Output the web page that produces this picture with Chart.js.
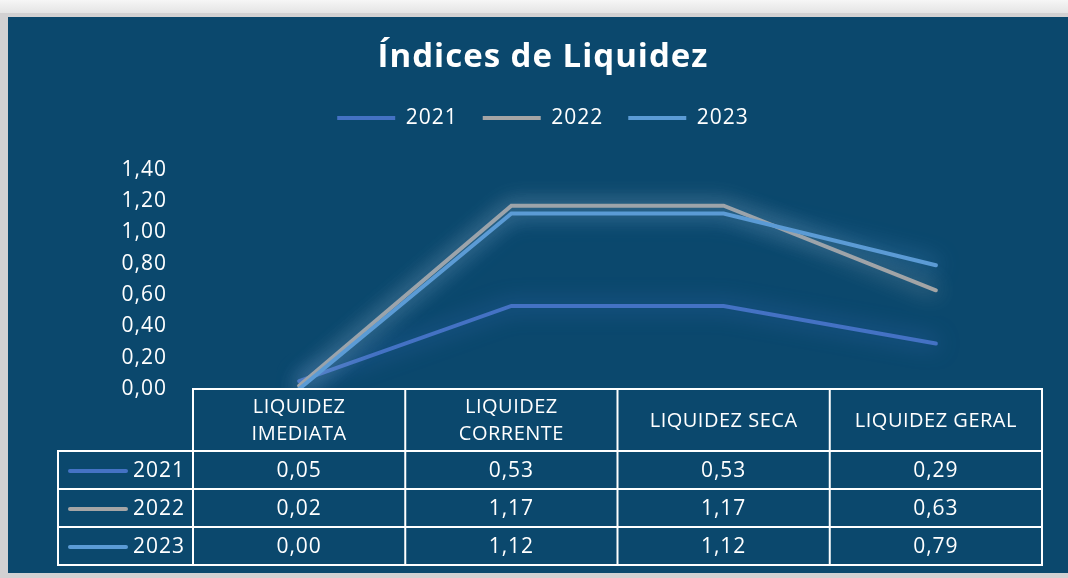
<!DOCTYPE html>
<html>
<head>
<meta charset="utf-8">
<script src="https://cdn.jsdelivr.net/npm/chart.js@4.4.0/dist/chart.umd.min.js"></script>
<style>
  html, body { margin: 0; padding: 0; }
  body { width: 1068px; height: 578px; background: #d2d1d2; overflow: hidden; position: relative; }
  .top { position: absolute; left: 0; top: 0; width: 1068px; height: 13px; background: linear-gradient(#f6f6f6, #e4e4e4); }
  .chart-box { position: absolute; left: 8px; top: 17px; width: 1060px; height: 556px; background: #0b486d; }
</style>
</head>
<body>
<div class="top"></div>
<div class="chart-box">
  <canvas id="liquidez"></canvas>
</div>
<script>
// Data
const categories = [["LIQUIDEZ", "IMEDIATA"], ["LIQUIDEZ", "CORRENTE"], ["LIQUIDEZ SECA"], ["LIQUIDEZ GERAL"]];
const years = ["2021", "2022", "2023"];
const values2021 = [0.05, 0.53, 0.53, 0.29];
const values2022 = [0.02, 1.17, 1.17, 0.63];
const values2023 = [0.00, 1.12, 1.12, 0.79];
const yTicks = [0, 0.2, 0.4, 0.6, 0.8, 1.0, 1.2, 1.4];

const colors = ['#4472c4', '#a5a5a5', '#5b9bd5'];
const glows = ['rgba(68,114,196,0.9)', 'rgba(215,215,215,0.75)', 'rgba(91,155,213,0.9)'];
const FONT = '"Open Sans", sans-serif';

const fmt = (v) => v.toFixed(2).replace('.', ',');

// Slightly wider text, like the original
const spacing = {
    id: 'spacing',
    beforeUpdate(chart) { chart.ctx.letterSpacing = '1px'; },
    beforeDraw(chart) { chart.ctx.letterSpacing = '1px'; }
};

// Soft glow behind each line
const glow = {
    id: 'glow',
    beforeDatasetDraw(chart, args) {
        const ds = chart.data.datasets[args.index];
        chart.ctx.save();
        chart.ctx.shadowColor = ds.glowColor;
        chart.ctx.shadowBlur = 22;
    },
    afterDatasetDraw(chart) {
        chart.ctx.restore();
    }
};

// Extra room between legend and plot
const legendSpace = {
    id: 'legendSpace',
    beforeInit(chart) {
        const fit = chart.legend.fit;
        chart.legend.fit = function () {
            fit.bind(chart.legend)();
            this.height += 31;
        };
    }
};

// Data table under the plot, aligned with the category scale
const dataTable = {
    id: 'dataTable',
    afterDraw(chart) {
        const { ctx, chartArea } = chart;
        const n = categories.length;
        const colW = (chartArea.right - chartArea.left) / n;
        const top = chartArea.bottom;
        const headH = 62, rowH = 38;
        const legLeft = 50;
        const rowsTop = top + headH;
        const bottom = rowsTop + rowH * years.length;

        ctx.save();
        ctx.strokeStyle = '#ffffff';
        ctx.lineWidth = 2;

        ctx.strokeRect(chartArea.left, top, chartArea.right - chartArea.left, bottom - top);
        ctx.strokeRect(legLeft, rowsTop, chartArea.left - legLeft, bottom - rowsTop);
        for (let i = 1; i < n; i++) {
            const xx = chartArea.left + i * colW;
            ctx.beginPath(); ctx.moveTo(xx, top); ctx.lineTo(xx, bottom); ctx.stroke();
        }
        for (let r = 0; r < years.length; r++) {
            const yy = rowsTop + r * rowH;
            ctx.beginPath(); ctx.moveTo(legLeft, yy); ctx.lineTo(chartArea.right, yy); ctx.stroke();
        }

        // header text
        ctx.fillStyle = '#ffffff';
        ctx.textAlign = 'center';
        ctx.textBaseline = 'middle';
        ctx.letterSpacing = '0.5px';
        ctx.font = '20px ' + FONT;
        categories.forEach((lines, i) => {
            const cx = chartArea.left + (i + 0.5) * colW;
            const cy = top + headH / 2 + 1;
            lines.forEach((t, j) => {
                ctx.fillText(t, cx, cy + (j - (lines.length - 1) / 2) * 27);
            });
        });

        // rows
        ctx.letterSpacing = '1px';
        chart.data.datasets.forEach((ds, r) => {
            const cy = rowsTop + (r + 0.5) * rowH + 1;
            ctx.strokeStyle = ds.borderColor;
            ctx.lineWidth = 4;
            ctx.lineCap = 'round';
            ctx.beginPath(); ctx.moveTo(62, cy); ctx.lineTo(118, cy); ctx.stroke();
            ctx.font = '21px ' + FONT;
            ctx.textAlign = 'right';
            ctx.fillText(ds.label, chartArea.left - 8, cy);
            ctx.textAlign = 'center';
            ds.data.forEach((v, i) => {
                ctx.fillText(fmt(v), chartArea.left + (i + 0.5) * colW, cy);
            });
        });
        ctx.restore();
    }
};

const seriesList = [values2021, values2022, values2023];

new Chart(document.getElementById('liquidez'), {
    type: 'line',
    data: {
        labels: categories.map(c => c.join(' ')),
        datasets: years.map((yr, i) => ({
            label: yr,
            data: seriesList[i],
            borderColor: colors[i],
            backgroundColor: colors[i],
            glowColor: glows[i],
            borderWidth: 4,
            borderCapStyle: 'round',
            pointRadius: 0,
            tension: 0,
            order: 2 - i
        }))
    },
    options: {
        responsive: true,
        maintainAspectRatio: false,
        animation: false,
        layout: { padding: { left: 36, right: 26, top: 0, bottom: 184 } },
        plugins: {
            title: {
                display: true,
                text: 'Índices de Liquidez',
                color: '#ffffff',
                font: { family: FONT, size: 33, weight: 'bold' },
                padding: { top: 21, bottom: 5 }
            },
            legend: {
                display: true,
                labels: {
                    color: '#ffffff',
                    font: { family: FONT, size: 21 },
                    boxWidth: 58,
                    boxHeight: 4,
                    padding: 25,
                    generateLabels(chart) {
                        return chart.data.datasets.map((ds, i) => ({
                            text: ds.label,
                            fillStyle: ds.borderColor,
                            strokeStyle: ds.borderColor,
                            lineWidth: 0,
                            fontColor: '#ffffff',
                            datasetIndex: i
                        }));
                    }
                }
            },
            tooltip: { enabled: false }
        },
        scales: {
            x: {
                display: false,
                offset: true
            },
            y: {
                min: 0,
                max: 1.4,
                afterBuildTicks(scale) {
                    scale.ticks = yTicks.map(v => ({ value: v }));
                },
                afterFit(scale) { scale.width = 149; },
                grid: { display: false, drawTicks: false },
                border: { display: false },
                ticks: {
                    color: '#ffffff',
                    font: { family: FONT, size: 21 },
                    padding: 26,
                    callback: (v) => fmt(v)
                }
            }
        }
    },
    plugins: [spacing, glow, legendSpace, dataTable]
});
</script>
</body>
</html>
